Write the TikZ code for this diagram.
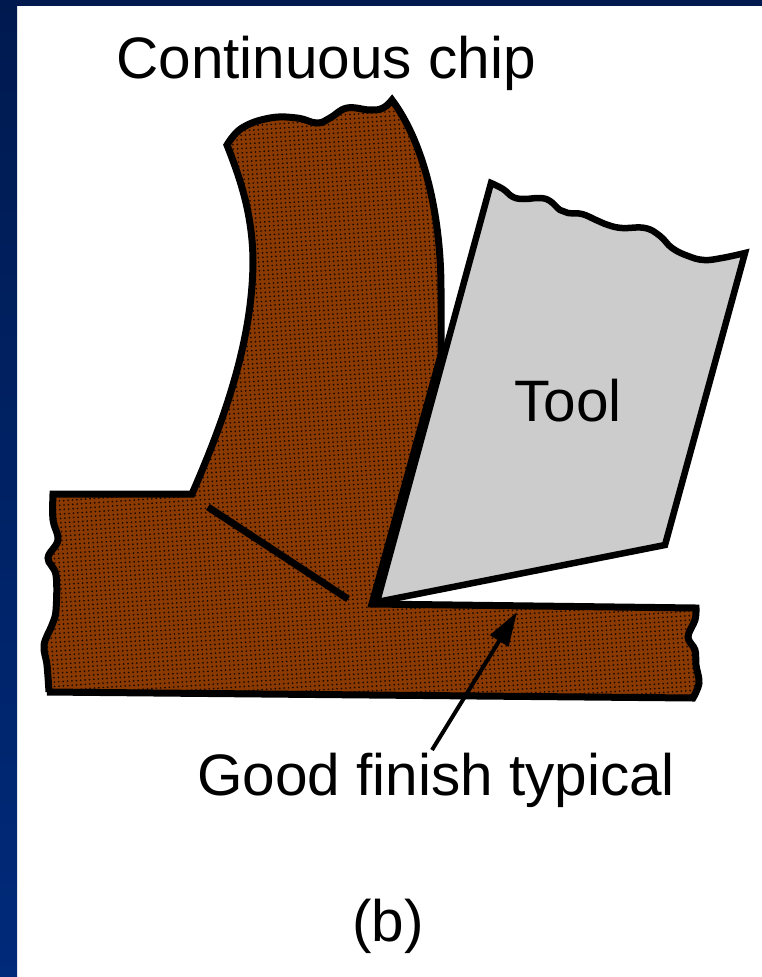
\documentclass[tikz,border=0pt]{standalone}
\usepackage{fontspec}
\setmainfont{Liberation Sans}
\definecolor{slidenavy}{RGB}{0, 26, 80}
\definecolor{slideblue}{RGB}{0, 42, 122}
\definecolor{chipbrown}{RGB}{138, 58, 0}
\definecolor{chipdots}{RGB}{20, 8, 0}
\definecolor{toolgray}{RGB}{204, 204, 204}
\usetikzlibrary{arrows.meta, patterns.meta}
\tikzset{
  partlabel/.style={font=\fontsize{58.5}{58.5}\selectfont, inner sep=0pt, anchor=base},
  outline/.style={draw=black, line width=7pt, miter limit=6},
}

\begin{document}
\begin{tikzpicture}[x=1pt, y=-1pt]
\useasboundingbox (0,0) rectangle (762,977);
\fill[white] (0,0) rectangle (762,977);
\shade[top color=slidenavy, bottom color=slideblue] (0,0) rectangle (17,977);
\fill[slidenavy] (0,0) rectangle (762,6);
% tool
\draw[outline, line width=6.5pt, fill=toolgray] (377,602) -- (491,183)
  -- plot[smooth, tension=0.7] coordinates {(491,183) (503,189) (513,197) (524,199) (540,198) (550,201) (560,210) (568,213) (582,214) (596,220) (608,225) (622,228) (645,228) (660,236) (672,248) (688,256) (704,260) (722,258) (745,253)}
  -- (665,545) -- cycle;
% chip and workpiece
\draw[outline, preaction={fill=chipbrown}, pattern={Dots[distance=4.4pt, radius=0.95pt, angle=4]}, pattern color=chipdots]
  (53,494) -- (192,494)
  .. controls (222,425) and (252,345) .. (253,263)
  .. controls (253,215) and (240,178) .. (227,145)
  -- plot[smooth, tension=0.7] coordinates {(227,145) (242,128) (270,118) (297,118) (317,123) (330,118) (347,108) (370,110) (383,108) (392,100)}
  .. controls (422,140) and (441,210) .. (441,290)
  -- (441,355)
  -- (372,604) -- (696,608)
  -- plot[smooth, tension=0.6] coordinates {(696,608) (695,620) (688,637) (695,650) (696,665) (699,683) (693,698)}
  -- (47,692)
  -- plot[smooth, tension=0.6] coordinates {(49,692) (47,665) (44,645) (52,625) (56,610) (56,575) (48,558) (58,540) (53,520) (53,494)}
  -- cycle;
% shear plane
\draw[line width=7pt] (208,507) -- (348,599);
% labels
\node[partlabel] (chip) at (326,78) {Continuous chip};
\node[partlabel] (tool) at (568,421) {Tool};
\node[partlabel] (finish) at (436,795) {Good finish typical};
\node[partlabel] (sub) at (388,941) {(b)};
% arrow
\coordinate (finishtip) at (517,612);
\coordinate (finishtail) at (432,750);
\draw[line width=4pt, -{Triangle[length=34pt, width=21pt]}] (finishtail) -- (finishtip);
\end{tikzpicture}
\end{document}
